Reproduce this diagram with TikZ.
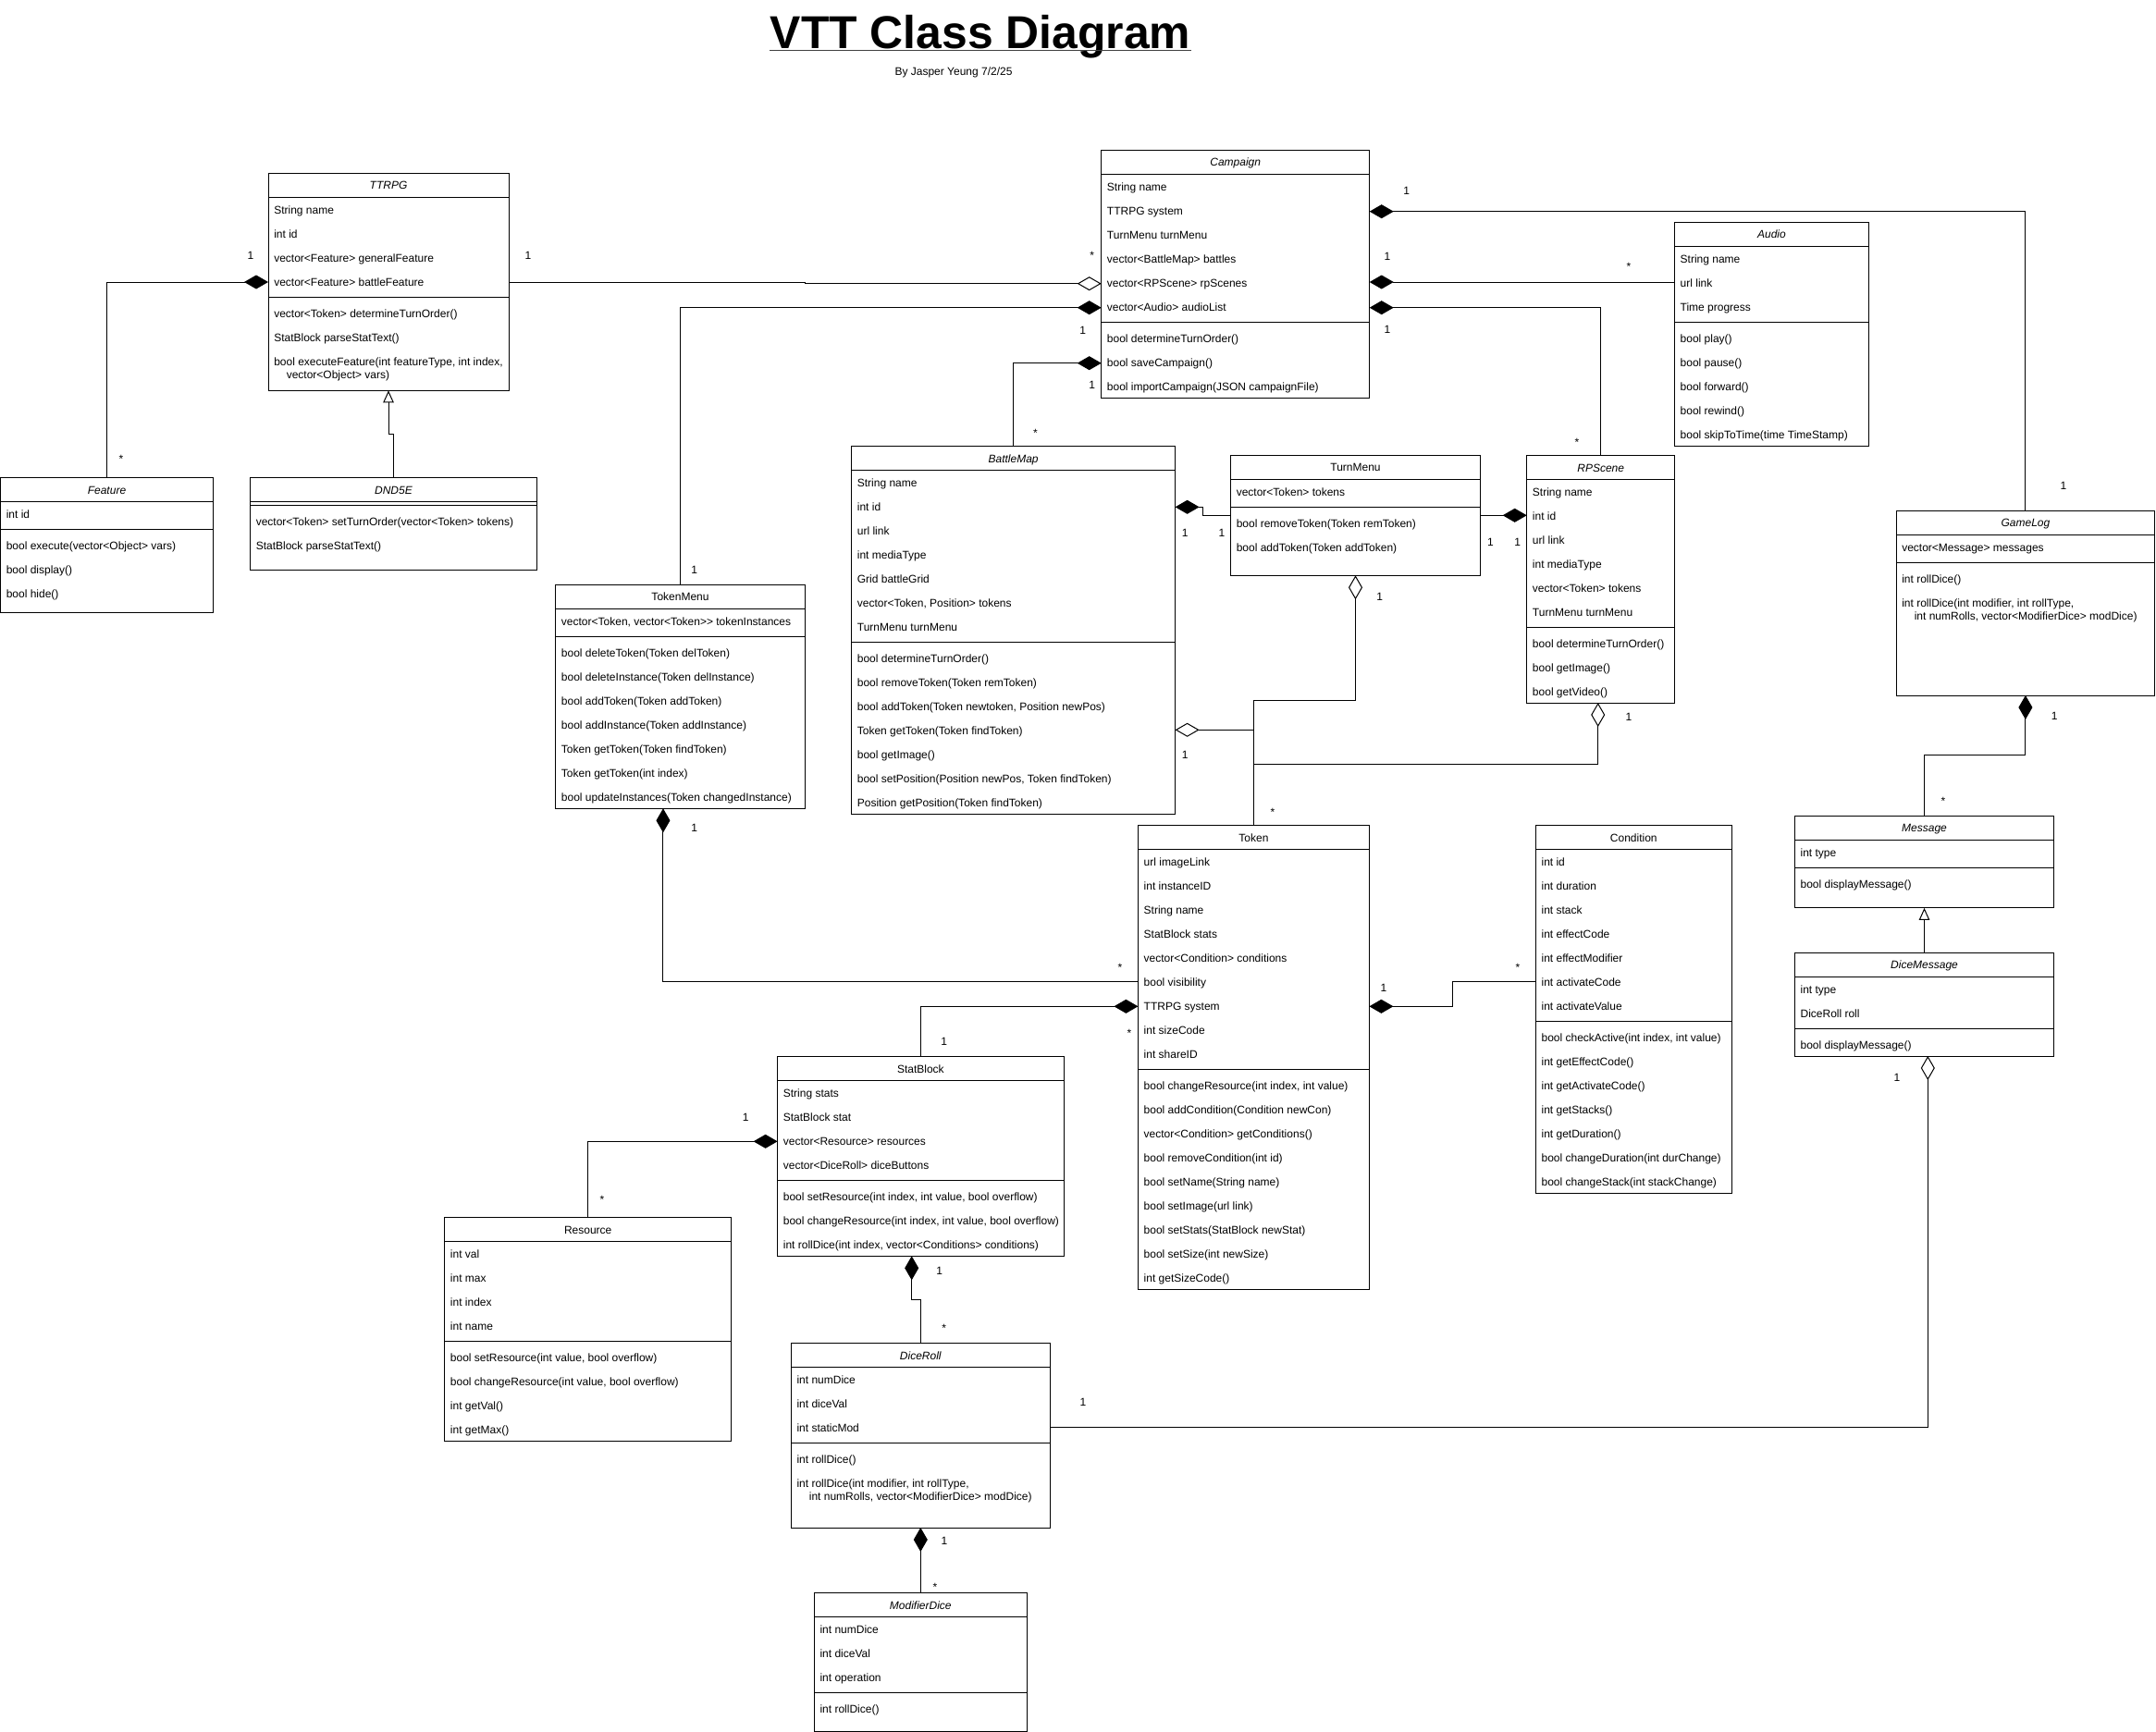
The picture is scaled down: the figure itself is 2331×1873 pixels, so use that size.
\documentclass[tikz,border=0pt]{standalone}
\usepackage{fontspec}
\setmainfont{Liberation Sans}
\usetikzlibrary{arrows.meta,calc}

\tikzset{
  cls/.style={draw=black, line width=0.75pt, fill=white, inner sep=0pt, outer sep=0pt, anchor=north west},
  txt/.style={anchor=base west, inner sep=0pt, font=\fontsize{9}{10.5}\selectfont},
  hdr/.style={anchor=base, inner sep=0pt, font=\fontsize{9}{10.5}\selectfont},
  hdri/.style={anchor=base, inner sep=0pt, font=\fontsize{9}{10.5}\selectfont\itshape},
  lbl/.style={anchor=base, inner sep=0pt, font=\fontsize{9}{10.5}\selectfont},
  conn/.style={draw=black, line width=0.75pt},
  comp/.style={conn, -{Diamond[length=19.5pt,width=11.25pt]}},
  agg/.style={conn, -{Diamond[open,length=19.5pt,width=11.25pt,fill=white]}},
  gen/.style={conn, -{Triangle[open,length=9.75pt,width=8.6pt,fill=white]}},
}

% #1 name, #2 x, #3 y, #4 w, #5 h, #6 title style, #7 title
\newcommand\umlclass[7]{%
  \node[cls, minimum width=#4*0.75pt, minimum height=#5*0.75pt] (#1) at (#2,#3) {};
  \draw[line width=0.75pt] ($(#1.north west)+(0,26)$) -- ($(#1.north east)+(0,26)$);
  \node[#6] (#1-title) at ($(#1.north)+(0,17.5)$) {#7};
}
% separator: #1 name, #2 y
\newcommand\umlsep[2]{\draw[line width=0.75pt] (#1.west |- 0,#2) -- (#1.east |- 0,#2);}
% rows: #1 prefix, #2 box x, #3 first row top, #4 list
\newcommand\umlrows[4]{%
  \foreach \t [count=\i] in {#4} {\node[txt] (#1-\i) at ({#2+6},{#3+\i*26-8}) {\t};}}

\begin{document}
\begin{tikzpicture}[x=0.75pt,y=-0.75pt]
\fill[white] (0,0) rectangle (2331,1873);
\useasboundingbox (0,0) rectangle (2331,1873);

% Title
\node[anchor=base, inner sep=0pt, font=\fontsize{37.4}{40}\selectfont\bfseries] (title) at (1060,53) {VTT Class Diagram};
\draw[line width=1.2pt, black!75] ([yshift=-1.2pt]title.base west) -- ([yshift=-1.2pt]title.base east);
\node[lbl] (subtitle) at (1031,81.5) {By Jasper Yeung 7/2/25};

% TTRPG
\umlclass{ttrpg}{290}{187.3}{260}{235}{hdri}{TTRPG}
\umlrows{ttrpg-a}{290}{213.3}{String name, int id, vector<Feature> generalFeature, vector<Feature> battleFeature}
\umlsep{ttrpg}{321.3}
\umlrows{ttrpg-m}{290}{325.3}{vector<Token> determineTurnOrder(), StatBlock parseStatText(), {bool executeFeature(int featureType, int index,}}
\node[txt] (ttrpg-m-3b) at (309.5,409.3) {vector<Object> vars)};

% Feature
\umlclass{feature}{0.5}{516.7}{230}{145.6}{hdri}{Feature}
\umlrows{feature-a}{0.5}{542.7}{int id}
\umlsep{feature}{572.7}
\umlrows{feature-m}{0.5}{576.7}{bool execute(vector<Object> vars), bool display(), bool hide()}

% DND5E
\umlclass{dnd}{270.5}{516.7}{310}{99.3}{hdri}{DND5E}
\umlsep{dnd}{546.7}
\umlrows{dnd-m}{270.5}{550.7}{vector<Token> setTurnOrder(vector<Token> tokens), StatBlock parseStatText()}

% Campaign
\umlclass{campaign}{1190.7}{162.3}{290}{267.7}{hdri}{Campaign}
\umlrows{campaign-a}{1190.7}{188.3}{String name, TTRPG system, TurnMenu turnMenu, vector<BattleMap> battles, vector<RPScene> rpScenes, vector<Audio> audioList}
\umlsep{campaign}{348.3}
\umlrows{campaign-m}{1190.7}{352.3}{bool determineTurnOrder(), bool saveCampaign(), bool importCampaign(JSON campaignFile)}

% Audio
\umlclass{audio}{1810.4}{240.4}{210}{242}{hdri}{Audio}
\umlrows{audio-a}{1810.4}{266.4}{String name, url link, Time progress}
\umlsep{audio}{348.4}
\umlrows{audio-m}{1810.4}{352.4}{bool play(), bool pause(), bool forward(), bool rewind(), bool skipToTime(time TimeStamp)}

% GameLog
\umlclass{gamelog}{2050}{552}{279.8}{200}{hdri}{GameLog}
\umlrows{gamelog-a}{2050}{578}{vector<Message> messages}
\umlsep{gamelog}{608}
\umlrows{gamelog-m}{2050}{612}{int rollDice(), {int rollDice(int modifier, int rollType,}}
\node[txt] (gamelog-m-2b) at (2069.5,670) {int numRolls, vector<ModifierDice> modDice)};

% BattleMap
\umlclass{battlemap}{920.6}{482.7}{350}{397.3}{hdri}{BattleMap}
\umlrows{battlemap-a}{920.6}{508.7}{String name, int id, url link, int mediaType, Grid battleGrid, {vector<Token, Position> tokens}, TurnMenu turnMenu}
\umlsep{battlemap}{694.7}
\umlrows{battlemap-m}{920.6}{698.7}{bool determineTurnOrder(), bool removeToken(Token remToken), {bool addToken(Token newtoken, Position newPos)}, Token getToken(Token findToken), bool getImage(), {bool setPosition(Position newPos, Token findToken)}, Position getPosition(Token findToken)}

% TurnMenu
\umlclass{turnmenu}{1330.5}{492.3}{270}{130}{hdr}{TurnMenu}
\umlrows{turnmenu-a}{1330.5}{518.3}{vector<Token> tokens}
\umlsep{turnmenu}{548.3}
\umlrows{turnmenu-m}{1330.5}{552.3}{bool removeToken(Token remToken), bool addToken(Token addToken)}

% RPScene
\umlclass{rpscene}{1650.7}{492.7}{160}{267.3}{hdri}{RPScene}
\umlrows{rpscene-a}{1650.7}{518.7}{String name, int id, url link, int mediaType, vector<Token> tokens, TurnMenu turnMenu}
\umlsep{rpscene}{678.7}
\umlrows{rpscene-m}{1650.7}{682.7}{bool determineTurnOrder(), bool getImage(), bool getVideo()}

% TokenMenu
\umlclass{tokenmenu}{600.7}{632.3}{269.6}{242}{hdr}{TokenMenu}
\umlrows{tokenmenu-a}{600.7}{658.3}{{vector<Token, vector<Token>\kern0pt> tokenInstances}}
\umlsep{tokenmenu}{688.3}
\umlrows{tokenmenu-m}{600.7}{692.3}{bool deleteToken(Token delToken), bool deleteInstance(Token delInstance), bool addToken(Token addToken), bool addInstance(Token addInstance), Token getToken(Token findToken), Token getToken(int index), bool updateInstances(Token changedInstance)}

% Token
\umlclass{token}{1230.4}{892.7}{250}{501.6}{hdr}{Token}
\umlrows{token-a}{1230.4}{918.7}{url imageLink, int instanceID, String name, StatBlock stats, vector<Condition> conditions, bool visibility, TTRPG system, int sizeCode, int shareID}
\umlsep{token}{1156.7}
\umlrows{token-m}{1230.4}{1160.7}{{bool changeResource(int index, int value)}, bool addCondition(Condition newCon), vector<Condition> getConditions(), bool removeCondition(int id), bool setName(String name), bool setImage(url link), bool setStats(StatBlock newStat), bool setSize(int newSize), int getSizeCode()}

% Condition
\umlclass{condition}{1660.3}{892.7}{212}{397.3}{hdr}{Condition}
\umlrows{condition-a}{1660.3}{918.7}{int id, int duration, int stack, int effectCode, int effectModifier, int activateCode, int activateValue}
\umlsep{condition}{1104.7}
\umlrows{condition-m}{1660.3}{1108.7}{{bool checkActive(int index, int value)}, int getEffectCode(), int getActivateCode(), int getStacks(), int getDuration(), bool changeDuration(int durChange), bool changeStack(int stackChange)}

% StatBlock
\umlclass{statblock}{840.6}{1142.7}{309.5}{215.6}{hdr}{StatBlock}
\umlrows{statblock-a}{840.6}{1168.7}{String stats, StatBlock stat, vector<Resource> resources, vector<DiceRoll> diceButtons}
\umlsep{statblock}{1276.7}
\umlrows{statblock-m}{840.6}{1280.7}{{bool setResource(int index, int value, bool overflow)}, {bool changeResource(int index, int value, bool overflow)}, {int rollDice(int index, vector<Conditions> conditions)}}

% Resource
\umlclass{resource}{480.7}{1316.7}{310}{241.6}{hdr}{Resource}
\umlrows{resource-a}{480.7}{1342.7}{int val, int max, int index, int name}
\umlsep{resource}{1450.7}
\umlrows{resource-m}{480.7}{1454.7}{{bool setResource(int value, bool overflow)}, {bool changeResource(int value, bool overflow)}, int getVal(), int getMax()}

% DiceRoll
\umlclass{diceroll}{855.3}{1452.7}{280}{199.3}{hdri}{DiceRoll}
\umlrows{diceroll-a}{855.3}{1478.7}{int numDice, int diceVal, int staticMod}
\umlsep{diceroll}{1560.7}
\umlrows{diceroll-m}{855.3}{1564.7}{int rollDice(), {int rollDice(int modifier, int rollType,}}
\node[txt] (diceroll-m-2b) at (874.6,1622.7) {int numRolls, vector<ModifierDice> modDice)};

% ModifierDice
\umlclass{modifierdice}{880.3}{1722.7}{230}{149.6}{hdri}{ModifierDice}
\umlrows{modifierdice-a}{880.3}{1748.7}{int numDice, int diceVal, int operation}
\umlsep{modifierdice}{1830.7}
\umlrows{modifierdice-m}{880.3}{1834.7}{int rollDice()}

% Message
\umlclass{message}{1940.3}{882.3}{280.4}{99.6}{hdri}{Message}
\umlrows{message-a}{1940.3}{908.3}{int type}
\umlsep{message}{938.3}
\umlrows{message-m}{1940.3}{942.3}{bool displayMessage()}

% DiceMessage
\umlclass{dicemessage}{1940.3}{1030}{280.4}{112}{hdri}{DiceMessage}
\umlrows{dicemessage-a}{1940.3}{1056}{int type, DiceRoll roll}
\umlsep{dicemessage}{1112}
\umlrows{dicemessage-m}{1940.3}{1116}{bool displayMessage()}

% Connectors
\draw[comp] (feature.north) |- (ttrpg.west |- 0,305);
\draw[gen] (dnd.north) -- (dnd.north |- 0,469.3) -| (ttrpg.south);
\draw[agg] (ttrpg.east |- 0,305) -- (870,305) -- (870,306.7) -- (campaign.west |- 0,306.7);
\draw[comp] (tokenmenu.north) |- (campaign.west |- 0,332.7);
\draw[comp] (battlemap.north) |- (campaign.west |- 0,392.7);
\draw[comp] (gamelog.north) |- (campaign.east |- 0,228.7);
\draw[comp] (audio.west |- 0,305) -- (campaign.east |- 0,305);
\draw[comp] (rpscene.north) |- (campaign.east |- 0,332.7);
\draw[comp] (turnmenu.west |- 0,557.3) -- (1300.3,557.3) -- (1300.3,548.3) -- (battlemap.east |- 0,548.3);
\draw[comp] (turnmenu.east |- 0,557.3) -- (rpscene.west |- 0,557.3);
\draw[agg] (token.north) -- (token.north |- 0,757.3) -| (turnmenu.south);
\draw[agg] (token.north) -- (token.north |- 0,789.3) -- (battlemap.east |- 0,789.3);
\draw[agg] (token.north) -- (token.north |- 0,826.3) -| ([xshift=-2.25pt]rpscene.south);
\draw[comp] (token.west |- 0,1061) -| ([xshift=-13.9pt]tokenmenu.south);
\draw[comp] (statblock.north) |- (token.west |- 0,1088.3);
\draw[comp] (condition.west |- 0,1061) -- (1570.5,1061) |- (token.east |- 0,1088.3);
\draw[comp] (resource.north) |- (statblock.west |- 0,1234.3);
\draw[comp] (diceroll.north) -- (diceroll.north |- 0,1405.7) -| ([xshift=-7.24pt]statblock.south);
\draw[comp] (modifierdice.north) -- (diceroll.south);
\draw[comp] (message.north) -- (message.north |- 0,816) -| (gamelog.south);
\draw[gen] (dicemessage.north) -- (message.south);
\draw[agg] (diceroll.east |- 0,1543.3) -| ([xshift=2.85pt]dicemessage.south);

% Multiplicity labels ("1": baseline = centre+4.3, "*": baseline = centre+7)
\node[lbl] (l1) at (271,280.3) {1};
\node[lbl] (l2) at (130.9,500.3) {*};
\node[lbl] (l3) at (571,280.3) {1};
\node[lbl] (l4) at (1180.7,280.3) {*};
\node[lbl] (l5) at (1170.7,361) {1};
\node[lbl] (l6) at (1180.7,420.3) {1};
\node[lbl] (l7) at (1119.4,472.3) {*};
\node[lbl] (l8) at (750.7,620) {1};
\node[lbl] (l9) at (1520.7,210.3) {1};
\node[lbl] (l10) at (1500,281) {1};
\node[lbl] (l11) at (1500,360) {1};
\node[lbl] (l12) at (1761,292.4) {*};
\node[lbl] (l13) at (1705,482.7) {*};
\node[lbl] (l14) at (2231,529.7) {1};
\node[lbl] (l15) at (1281.2,580.3) {1};
\node[lbl] (l16) at (1321,580.3) {1};
\node[lbl] (l17) at (1611.5,590.3) {1};
\node[lbl] (l18) at (1640.7,590.3) {1};
\node[lbl] (l19) at (1491.7,649.3) {1};
\node[lbl] (l20) at (1281.2,820) {1};
\node[lbl] (l21) at (1761,779.3) {1};
\node[lbl] (l22) at (1376,882.7) {*};
\node[lbl] (l23) at (750.7,899.3) {1};
\node[lbl] (l24) at (1211,1050.3) {*};
\node[lbl] (l25) at (1221,1121.3) {*};
\node[lbl] (l26) at (1020.6,1130) {1};
\node[lbl] (l27) at (1496,1072) {1};
\node[lbl] (l28) at (1641,1050.3) {*};
\node[lbl] (l29) at (806.2,1212.6) {1};
\node[lbl] (l30) at (651,1301) {*};
\node[lbl] (l31) at (1015.6,1378.3) {1};
\node[lbl] (l32) at (1020.6,1440.3) {*};
\node[lbl] (l33) at (1021,1670.3) {1};
\node[lbl] (l34) at (1011,1720.3) {*};
\node[lbl] (l35) at (2221.3,778.9) {1};
\node[lbl] (l36) at (2101,870.6) {*};
\node[lbl] (l37) at (2051,1169.7) {1};
\node[lbl] (l38) at (1171,1520.3) {1};
\end{tikzpicture}
\end{document}
